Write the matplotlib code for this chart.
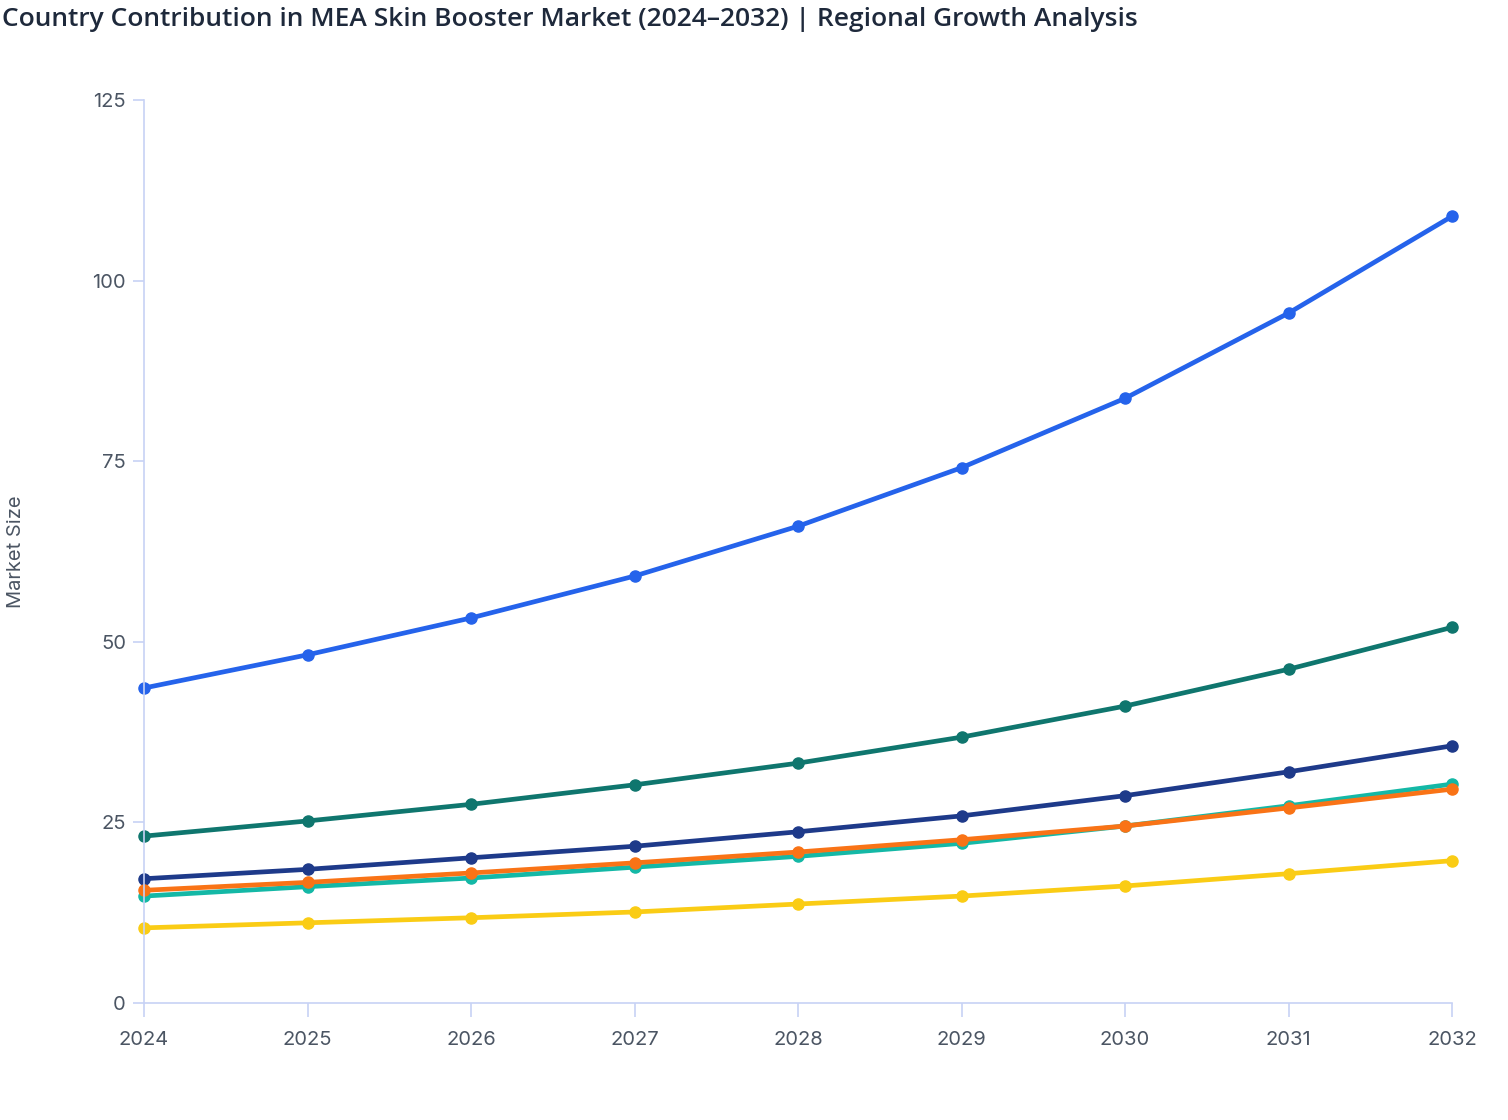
import matplotlib
matplotlib.use("Agg")
import matplotlib.pyplot as plt

years = [2024, 2025, 2026, 2027, 2028, 2029, 2030, 2031, 2032]
series_a = [43.6, 48.2, 53.3, 59.1, 66.0, 74.1, 83.7, 95.5, 108.9]
series_b = [23.1, 25.2, 27.5, 30.2, 33.2, 36.8, 41.1, 46.2, 52.0]
series_c = [17.2, 18.5, 20.1, 21.7, 23.7, 25.9, 28.7, 32.0, 35.6]
series_d = [14.8, 16.1, 17.3, 18.8, 20.3, 22.1, 24.5, 27.3, 30.3]
series_e = [15.6, 16.7, 18.0, 19.4, 20.9, 22.6, 24.5, 27.0, 29.6]
series_f = [10.4, 11.1, 11.8, 12.6, 13.7, 14.8, 16.2, 17.9, 19.7]
y_ticks = [0, 25, 50, 75, 100, 125]

colors = ["#2563eb", "#0f766e", "#1e3a8a", "#14b8a6", "#f97316", "#facc15"]
all_series = [series_a, series_b, series_c, series_d, series_e, series_f]

plt.rcParams['font.family'] = ['Inter', 'DejaVu Sans']

fig = plt.figure(figsize=(15.08, 11.2), dpi=100)
ax = fig.add_axes([144/1508, 1 - 1003/1120, (1452-144)/1508, (1003-100)/1120])

for s, c in zip(all_series, colors):
    ax.plot(years, s, color=c, linewidth=3.4, marker='o', markersize=8,
            solid_capstyle='round', solid_joinstyle='round', clip_on=False)

ax.set_xlim(2024, 2032)
ax.set_ylim(0, 125)
ax.set_xticks(years)
ax.set_xticklabels([str(y) for y in years])
ax.set_yticks(y_ticks)

axis_col = "#c7d2f5"
for side in ['top', 'right']:
    ax.spines[side].set_visible(False)
for side in ['left', 'bottom']:
    ax.spines[side].set_color(axis_col)
    ax.spines[side].set_linewidth(1.2)

ax.tick_params(axis='x', colors=axis_col, labelcolor="#4b5563", length=10, width=1.2,
               labelsize=14.5, pad=10)
ax.tick_params(axis='y', colors=axis_col, labelcolor="#4b5563", length=8, width=1.2,
               labelsize=14.5, pad=5)

fig.text(16/1508, 1 - 552/1120, "Market Size", rotation=90, ha='center', va='center',
         fontsize=14.5, color="#4b5563")

fig.text(2/1508, 1 - 20/1120, "Country Contribution in MEA Skin Booster Market (2024\u20132032) | Regional Growth Analysis",
         ha='left', va='center', fontsize=19, fontweight='semibold', color="#1e293b",
         family=['Open Sans', 'DejaVu Sans'])

fig.savefig("out.png", dpi=100)
